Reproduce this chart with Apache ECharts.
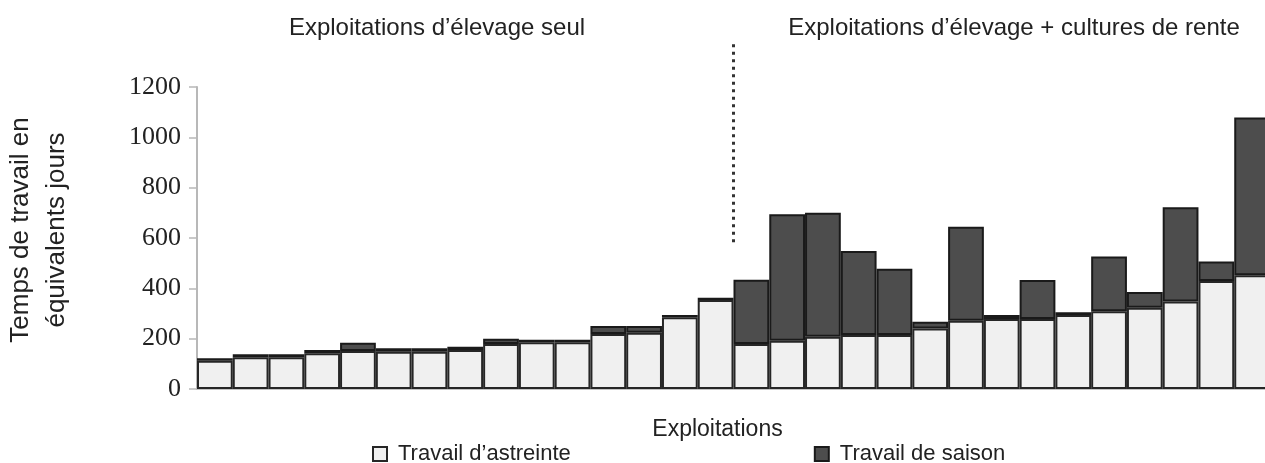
<!DOCTYPE html>
<html>
<head>
<meta charset="utf-8">
<script src="https://cdn.jsdelivr.net/npm/echarts@6/dist/echarts.min.js"></script>
<style>
  html, body { margin: 0; padding: 0; background: #fff; }
  #chart { width: 1265px; height: 463px; }
</style>
</head>
<body>
<div id="chart"></div>
<script>
// 30 exploitations, sorted: 15 "élevage seul" then 15 "élevage + cultures de rente"
var categories = [];
for (var i = 1; i <= 30; i++) categories.push("E" + i);

var astreinte = [112, 126, 126, 142, 151, 148, 148, 155, 179, 186,
                 186, 219, 224, 285, 354, 179, 192, 208, 215, 215,
                 240, 271, 278, 278, 294, 309, 323, 348, 429, 452];
var saison = [10, 12, 12, 13, 33, 14, 14, 13, 21, 10,
              10, 31, 26, 9, 9, 255, 502, 492, 333, 263,
              27, 374, 16, 155, 11, 217, 62, 374, 78, 627];

var yTicks = [0, 200, 400, 600, 800, 1000, 1200];
var groupLabels = ["Exploitations d’élevage seul", "Exploitations d’élevage + cultures de rente"];
var dividerAfter = 15;          // number of farms in first group
var dividerRange = [580, 1370]; // vertical extent of the dotted separator (axis units)

var chartDom = document.getElementById("chart");
var myChart = echarts.init(chartDom);
var sansFont = "Liberation Sans, Arial, sans-serif";

var option = {
  animation: false,
  grid: { left: 197, top: 87, width: 1073, bottom: 74, containLabel: false, outerBoundsMode: "none" },
  legend: {
    left: 367,
    top: 438,
    itemWidth: 14,
    itemHeight: 14,
    itemGap: 243,
    icon: "rect",
    textStyle: { fontFamily: sansFont, fontSize: 22, color: "#222", padding: [0, 0, 0, 6] },
    data: ["Travail d’astreinte", "Travail de saison"]
  },
  xAxis: {
    type: "category",
    data: categories,
    name: "Exploitations",
    nameLocation: "middle",
    nameGap: 29,
    nameTextStyle: { fontFamily: sansFont, fontSize: 23, color: "#222", padding: [0, 32, 0, 0] },
    axisLine: { lineStyle: { color: "#c4c4c4", width: 2 } },
    axisTick: { show: false },
    axisLabel: { show: false }
  },
  yAxis: {
    type: "value",
    min: yTicks[0],
    max: yTicks[yTicks.length - 1],
    interval: 200,
    name: "Temps de travail en\néquivalents jours",
    nameLocation: "middle",
    nameRotate: 90,
    nameGap: 122,
    nameTextStyle: { fontFamily: sansFont, fontSize: 26, color: "#222", lineHeight: 36, padding: [0, 0, 0, 16] },
    axisLine: { show: true, lineStyle: { color: "#b8b8b8", width: 2 } },
    axisTick: { show: true, inside: false, length: 8, lineStyle: { color: "#b8b8b8", width: 1.5 } },
    axisLabel: {
      fontFamily: "Liberation Serif, Times New Roman, serif", fontSize: 26, color: "#222", margin: 16,
      formatter: function (v) { return String(v); }
    },
    splitLine: { show: false }
  },
  series: [
    {
      name: "Travail d’astreinte",
      type: "bar",
      stack: "travail",
      data: astreinte,
      barCategoryGap: 0,
      itemStyle: { color: "#f0f0f0", borderColor: "#262626", borderWidth: 2 }
    },
    {
      name: "Travail de saison",
      type: "bar",
      stack: "travail",
      data: saison,
      barCategoryGap: 0,
      itemStyle: { color: "#4d4d4d", borderColor: "#1a1a1a", borderWidth: 2 }
    }
  ]
};
option && myChart.setOption(option);

// separator between the two groups + group titles, placed via the axis scales
var xLeft = myChart.convertToPixel({ xAxisIndex: 0 }, 0);
var xNext = myChart.convertToPixel({ xAxisIndex: 0 }, 1);
var band = xNext - xLeft;
var xDiv = xLeft - band / 2 + band * dividerAfter;
var yTop = myChart.convertToPixel({ yAxisIndex: 0 }, dividerRange[1]);
var yBot = myChart.convertToPixel({ yAxisIndex: 0 }, dividerRange[0]);

myChart.setOption({
  graphic: [
    {
      type: "line",
      shape: { x1: xDiv, y1: yTop, x2: xDiv, y2: yBot },
      style: { stroke: "#333", lineWidth: 3, lineDash: [3, 4.5] }
    },
    {
      type: "text",
      x: 437, y: 28,
      style: { text: groupLabels[0], fontFamily: sansFont, fontSize: 24, fill: "#222", align: "center", verticalAlign: "middle" }
    },
    {
      type: "text",
      x: 1014, y: 28,
      style: { text: groupLabels[1], fontFamily: sansFont, fontSize: 24, fill: "#222", align: "center", verticalAlign: "middle" }
    }
  ]
});
</script>
</body>
</html>
